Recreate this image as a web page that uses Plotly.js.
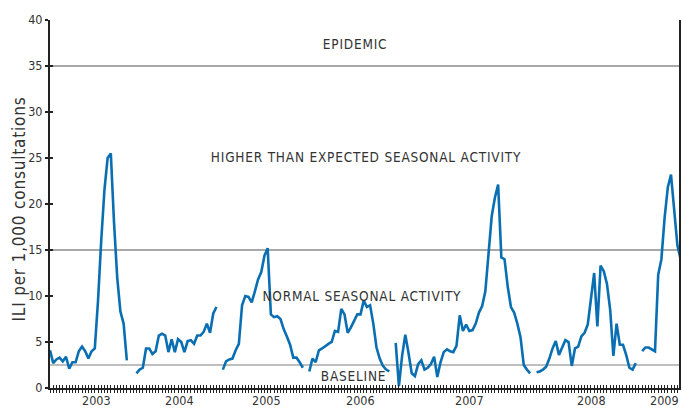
<!DOCTYPE html>
<html>
<head>
<meta charset="utf-8">
<script src="https://cdn.plot.ly/plotly-3.0.1.min.js"></script>
<style>
html,body{margin:0;padding:0;background:#fff;}
#chart{width:682px;height:408px;}
g.annotation[data-index="0"] text,
g.annotation[data-index="1"] text,
g.annotation[data-index="2"] text,
g.annotation[data-index="3"] text,
g.annotation[data-index="4"] text{letter-spacing:0.8px;}
</style>
</head>
<body>
<div id="chart"></div>
<script>
// Weekly ILI rate per 1,000 consultations (null = no reporting)
var iliValues = [
  4.1, 2.7, 3.1, 3.3, 2.9, 3.4, 2.1, 2.8, 2.8, 4.0,
  4.5, 4.0, 3.2, 4.0, 4.3, 9.5, 16.0, 21.5, 25.0, 25.5,
  18.0, 12.0, 8.3, 7.0, 3.0, null, null, 1.6, 2.0, 2.2,
  4.3, 4.3, 3.7, 4.0, 5.7, 5.9, 5.7, 3.9, 5.3, 3.9,
  5.3, 5.0, 3.9, 5.1, 5.2, 4.8, 5.7, 5.7, 6.1, 7.0,
  6.0, 8.1, 8.8, null, 2.0, 2.9, 3.1, 3.2, 4.1, 4.8,
  9.0, 10.0, 9.9, 9.3, 10.5, 11.8, 12.6, 14.4, 15.2, 8.0,
  7.7, 7.8, 7.5, 6.4, 5.6, 4.7, 3.3, 3.3, 2.8, 2.2,
  null, 1.8, 3.2, 2.8, 4.1, 4.3, 4.6, 4.8, 5.0, 6.2,
  6.1, 8.6, 8.0, 6.0, 6.6, 7.4, 8.0, 8.0, 9.5, 8.8,
  9.0, 7.0, 4.4, 3.2, 2.4, 2.0, 1.8, null, 4.9, 0.2,
  3.5, 5.8, 3.8, 1.6, 1.3, 2.6, 3.0, 2.0, 2.2, 2.6,
  3.4, 1.2, 2.8, 3.9, 4.2, 4.0, 3.9, 4.6, 7.9, 6.2,
  6.9, 6.2, 6.3, 7.0, 8.2, 8.9, 10.5, 14.5, 18.7, 20.7,
  22.1, 14.2, 14.0, 11.0, 8.8, 8.2, 7.0, 5.5, 2.5, 2.0,
  1.6, null, 1.7, 1.8, 2.0, 2.3, 3.2, 4.3, 5.1, 3.6,
  4.4, 5.2, 5.0, 2.4, 4.3, 4.5, 5.6, 6.0, 6.9, 9.5,
  12.5, 6.7, 13.3, 12.7, 11.3, 8.5, 3.5, 7.0, 4.7, 4.7,
  3.6, 2.2, 2.0, 2.7, null, 4.0, 4.4, 4.4, 4.2, 4.0,
  12.3, 14.0, 18.5, 21.8, 23.2, 19.3, 15.5, 14.0
];
var weeks = iliValues.map(function(v, i){ return i; });

// Year labels and the week position under which each is printed
var yearLabels = ["2003", "2004", "2005", "2006", "2007", "2008", "2009"];
var yearWeeks  = [14.4, 40.3, 67.5, 96.9, 130.9, 169.1, 192.0];

// Activity thresholds
var thresholdValues = [2.5, 15, 35];
var thresholdWidths = [1.5, 2, 2];

// Activity zone labels: text, week position, value position
var zoneLabels = ["EPIDEMIC", "HIGHER THAN EXPECTED SEASONAL ACTIVITY", "NORMAL SEASONAL ACTIVITY", "BASELINE"];
var zoneWeeks  = [95.3, 98.8, 97.5, 94.7];
var zoneValues = [37.4, 25.1, 10.0, 1.3];

var yTitle = "ILI per 1,000 consultations";

var FONT = "DejaVu Sans Condensed, DejaVu Sans, sans-serif";
var TXT = "#333333";
var AX = "#222222";
var XR = [0, 196.5];
var YR = [0, 40];

var traces = [
  {
    x: weeks, y: iliValues, type: "scatter", mode: "lines",
    line: {color: "#0a6fb2", width: 2.6},
    connectgaps: false, hoverinfo: "skip", showlegend: false
  },
  {
    x: [], y: [], type: "scatter", mode: "lines",
    xaxis: "x2", yaxis: "y2", showlegend: false, hoverinfo: "skip"
  }
];

var shapes = thresholdValues.map(function(v, i){
  return {type: "line", xref: "paper", x0: 0, x1: 1, yref: "y", y0: v, y1: v,
          line: {color: "#a8a8a8", width: thresholdWidths[i]}, layer: "below"};
});

var annotations = zoneLabels.map(function(t, i){
  return {text: t, x: zoneWeeks[i], y: zoneValues[i], xref: "x", yref: "y",
          showarrow: false, xanchor: "center", yanchor: "middle",
          font: {family: FONT, size: 13.5, color: TXT}};
});
// y-axis title (index 4) — letter-spaced like the zone labels
annotations.push({text: yTitle, xref: "paper", x: -0.0485, yref: "paper", y: 0.486,
  textangle: -90, showarrow: false, xanchor: "center", yanchor: "middle",
  font: {family: FONT, size: 17, color: TXT}});
yearLabels.forEach(function(t, i){
  annotations.push({text: t, x: yearWeeks[i], xref: "x", y: -0.033, yref: "paper",
    showarrow: false, xanchor: "center", yanchor: "middle",
    font: {family: FONT, size: 12.5, color: TXT}});
});

var layout = {
  width: 682, height: 408,
  margin: {l: 50, r: 3, t: 20, b: 20},
  paper_bgcolor: "#ffffff", plot_bgcolor: "#ffffff",
  showlegend: false,
  xaxis: {
    range: XR, tickmode: "linear", tick0: 0, dtick: 1,
    ticks: "outside", ticklen: 3, tickwidth: 1, tickcolor: AX,
    showticklabels: false, showgrid: false, zeroline: false,
    showline: true, linecolor: AX, linewidth: 2, fixedrange: true
  },
  xaxis2: {
    overlaying: "x", anchor: "y2", side: "bottom",
    range: XR, tickmode: "linear", tick0: 0, dtick: 1,
    ticks: "inside", ticklen: 3, tickwidth: 1, tickcolor: AX,
    showticklabels: false, showgrid: false, zeroline: false, showline: false
  },
  yaxis: {
    range: YR, tickmode: "linear", tick0: 0, dtick: 5,
    ticks: "outside", ticklen: 3, tickwidth: 1.2, tickcolor: AX,
    tickfont: {family: FONT, size: 12.5, color: TXT},
    showgrid: false, zeroline: false,
    showline: true, linecolor: AX, linewidth: 2, mirror: true,
    fixedrange: true
  },
  yaxis2: {
    overlaying: "y", anchor: "x2", side: "left",
    range: YR, tickmode: "linear", tick0: 0, dtick: 5,
    ticks: "inside", ticklen: 3, tickwidth: 1.2, tickcolor: AX,
    showticklabels: false, showgrid: false, zeroline: false, showline: false
  },
  shapes: shapes,
  annotations: annotations
};

Plotly.newPlot("chart", traces, layout, {displayModeBar: false, staticPlot: true});
</script>
</body>
</html>
